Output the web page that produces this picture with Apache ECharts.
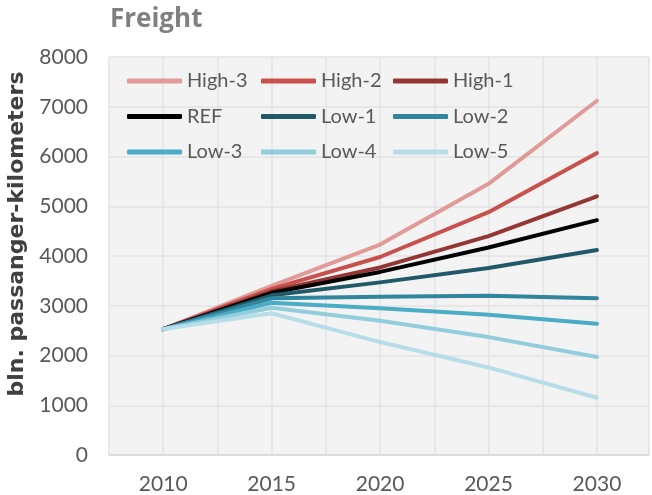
<!DOCTYPE html>
<html>
<head>
<meta charset="utf-8">
<script src="https://cdn.jsdelivr.net/npm/echarts@6/dist/echarts.min.js"></script>
<style>
  html, body { margin: 0; padding: 0; background: #fff; }
  #chart { width: 652px; height: 495px; }
</style>
</head>
<body>
<div id="chart"></div>
<script>
const years = [2010, 2015, 2020, 2025, 2030]

const high3 = [2530, 3400, 4230, 5450, 7120]
const high2 = [2530, 3340, 3980, 4880, 6070]
const high1 = [2530, 3290, 3770, 4400, 5200]
const ref = [2530, 3260, 3680, 4170, 4720]
const low1 = [2530, 3210, 3470, 3760, 4120]
const low2 = [2530, 3150, 3180, 3200, 3150]
const low3 = [2530, 3060, 2950, 2820, 2640]
const low4 = [2530, 2960, 2700, 2370, 1970]
const low5 = [2530, 2850, 2270, 1760, 1150]

const names = ['High-3', 'High-2', 'High-1', 'REF', 'Low-1', 'Low-2', 'Low-3', 'Low-4', 'Low-5']
const values = [high3, high2, high1, ref, low1, low2, low3, low4, low5]
const colors = ['#e09a98', '#c8504d', '#943634', '#000000', '#215968', '#31859c', '#4bacc6', '#92cddc', '#b7dee8']

const font = 'Lato, "Open Sans", sans-serif'

const chart = echarts.init(document.getElementById('chart'))

const legendCol = (left, data) => ({
  orient: 'vertical',
  left,
  top: 66,
  itemWidth: 55,
  itemHeight: 5,
  itemGap: 15.5,
  icon: 'roundRect',
  data,
  textStyle: { fontFamily: font, fontSize: 20, color: '#595959', lineHeight: 20 },
})

chart.setOption({
  animation: false,
  title: {
    text: 'Freight',
    left: 105,
    top: 2,
    textStyle: { fontFamily: '"Open Sans", sans-serif', fontSize: 26, fontWeight: 'bold', color: '#808080' },
  },
  graphic: [{
    type: 'text',
    x: 17,
    y: 234,
    rotation: Math.PI / 2,
    style: {
      text: 'bln. passanger-kilometers',
      fontFamily: '"DejaVu Sans", sans-serif',
      fontSize: 22,
      fontWeight: 'bold',
      fill: '#404040',
      align: 'center',
      verticalAlign: 'middle',
    },
  }],
  legend: [
    legendCol(122, ['High-3', 'REF', 'Low-3']),
    legendCol(256, ['High-2', 'Low-1', 'Low-4']),
    legendCol(388, ['High-1', 'Low-2', 'Low-5']),
  ],
  grid: {
    left: 109,
    top: 57,
    right: 0,
    height: 398,
    show: true,
    backgroundColor: '#f3f3f3',
    borderWidth: 0,
  },
  xAxis: {
    type: 'value',
    min: 2007.5,
    max: 2032.4,
    interval: 2.5,
    axisLine: { show: true, lineStyle: { color: '#d9d9d9', width: 1.5 } },
    axisTick: { show: false },
    axisLabel: {
      margin: 19,
      fontFamily: font,
      fontSize: 21,
      color: '#595959',
      formatter: v => (v % 5 === 0 ? String(v) : ''),
    },
    splitLine: { show: true, lineStyle: { color: '#e3e3e3', width: 1.5 } },
  },
  yAxis: {
    type: 'value',
    min: 0,
    max: 8000,
    interval: 1000,
    axisLine: { show: false },
    axisTick: { show: false },
    axisLabel: { margin: 21, fontFamily: font, fontSize: 21, color: '#595959', formatter: v => String(v) },
    splitLine: { show: true, lineStyle: { color: '#e3e3e3', width: 1.5 } },
  },
  series: names.map((name, i) => ({
    type: 'line',
    name,
    data: years.map((y, j) => [y, values[i][j]]),
    symbol: 'none',
    color: colors[i],
    lineStyle: { width: 4, cap: 'round', join: 'round' },
  })),
})
</script>
</body>
</html>
